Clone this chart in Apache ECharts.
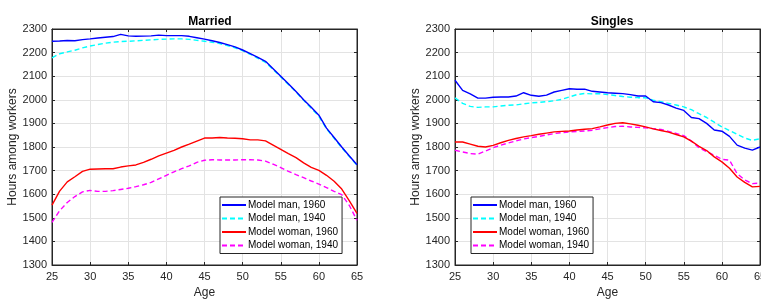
<!DOCTYPE html>
<html>
<head>
<meta charset="utf-8">
<script src="https://cdn.jsdelivr.net/npm/echarts@6/dist/echarts.min.js"></script>
<style>
  html, body { margin: 0; padding: 0; background: #fff; }
  #chart { width: 761px; height: 299px; }
</style>
</head>
<body>
<div id="chart"></div>
<script>
// ages 25..65
const ages = [25,26,27,28,29,30,31,32,33,34,35,36,37,38,39,40,41,42,43,44,45,
              46,47,48,49,50,51,52,53,54,55,56,57,58,59,60,61,62,63,64,65];

const seriesNames = ['Model man, 1960', 'Model man, 1940', 'Model woman, 1960', 'Model woman, 1940'];

// Married
const marriedMan1960 = [2248,2249,2251,2250,2255,2258,2262,2265,2268,2277,2271,2269,2270,2271,2274,2272,2272,2272,2269,2263,2257,
                        2250,2243,2234,2224,2211,2196,2180,2163,2132,2100,2068,2035,2000,1968,1935,1880,1840,1800,1762,1725];
const marriedMan1940 = [2178,2195,2203,2210,2220,2228,2234,2240,2244,2247,2248,2250,2252,2254,2256,2257,2258,2258,2256,2252,2248,
                        2244,2238,2230,2220,2208,2193,2176,2158,2128,2097,2065,2033,1998,1964,1930,1877,1837,1797,1760,1722];
const marriedWoman1960 = [1554,1613,1652,1674,1697,1706,1707,1708,1708,1715,1720,1724,1735,1748,1762,1774,1786,1800,1812,1825,1838,
                          1838,1840,1838,1837,1835,1830,1830,1826,1808,1790,1772,1755,1733,1714,1701,1680,1655,1622,1572,1519];
const marriedWoman1940 = [1481,1530,1565,1590,1610,1616,1612,1612,1615,1620,1625,1632,1640,1650,1665,1680,1695,1708,1720,1735,1744,
                          1746,1745,1745,1745,1746,1746,1745,1740,1727,1713,1697,1683,1670,1656,1643,1628,1612,1598,1552,1489];

// Singles
const singlesMan1960 = [2083,2040,2025,2007,2007,2011,2012,2012,2016,2030,2019,2015,2020,2033,2040,2047,2045,2045,2036,2033,2030,
                        2028,2026,2022,2016,2016,1992,1988,1978,1965,1955,1925,1920,1900,1872,1867,1845,1808,1795,1787,1800];
const singlesMan1940 = [2008,1985,1972,1968,1970,1970,1974,1977,1978,1983,1987,1989,1992,1996,2002,2012,2022,2027,2025,2026,2022,
                        2018,2014,2011,2009,2009,1998,1992,1985,1978,1970,1958,1941,1925,1905,1885,1870,1854,1838,1828,1835];
const singlesWoman1960 = [1821,1821,1812,1803,1800,1807,1818,1828,1836,1843,1848,1854,1859,1864,1866,1868,1872,1875,1878,1885,1893,
                          1900,1903,1898,1892,1885,1877,1870,1863,1853,1843,1825,1803,1785,1758,1737,1710,1673,1650,1631,1633];
const singlesWoman1940 = [1786,1779,1772,1770,1783,1797,1808,1817,1826,1834,1840,1845,1851,1857,1861,1864,1866,1868,1871,1877,1882,
                          1887,1888,1885,1883,1881,1878,1874,1866,1858,1848,1825,1797,1780,1765,1748,1744,1687,1660,1645,1647];

const axisColor = '#262626';
const gridColor = '#e3e3e3';
const lineColors = ['#0000ff', '#00ffff', '#ff0000', '#ff00ff'];
const lineTypes = ['solid', [5, 3], 'solid', [5, 3]];

const toPairs = vals => ages.map((a, i) => [a, vals[i]]);

function makeX(gridIndex, isTop) {
  return {
    type: 'value', gridIndex: gridIndex, min: 25, max: 65, interval: 5,
    position: isTop ? 'top' : 'bottom',
    name: isTop ? '' : 'Age', nameLocation: 'middle', nameGap: 22,
    nameTextStyle: { color: axisColor, fontSize: 12, fontFamily: 'Liberation Sans' },
    axisLine: { show: true, onZero: false, lineStyle: { color: axisColor, width: 1 } },
    axisTick: { show: true, inside: true, length: 3, lineStyle: { color: axisColor } },
    axisLabel: { show: !isTop, color: axisColor, fontSize: 11, fontFamily: 'Liberation Sans', margin: 6,
                 formatter: v => String(v) },
    splitLine: { show: !isTop, lineStyle: { color: gridColor, width: 1 } }
  };
}

function makeY(gridIndex, isRight) {
  return {
    type: 'value', gridIndex: gridIndex, min: 1300, max: 2300, interval: 100,
    position: isRight ? 'right' : 'left',
    name: isRight ? '' : 'Hours among workers', nameLocation: 'middle', nameGap: 29,
    nameTextStyle: { color: axisColor, fontSize: 12, fontFamily: 'Liberation Sans' },
    axisLine: { show: true, onZero: false, lineStyle: { color: axisColor, width: 1 } },
    axisTick: { show: true, inside: true, length: 3, lineStyle: { color: axisColor } },
    axisLabel: { show: !isRight, color: axisColor, fontSize: 11, fontFamily: 'Liberation Sans', margin: 5,
                 formatter: v => String(v) },
    splitLine: { show: !isRight, lineStyle: { color: gridColor, width: 1 } }
  };
}

const panels = [
  [marriedMan1960, marriedMan1940, marriedWoman1960, marriedWoman1940],
  [singlesMan1960, singlesMan1940, singlesWoman1960, singlesWoman1940]
];

const series = [];
panels.forEach((panel, p) => {
  panel.forEach((vals, k) => {
    series.push({
      name: seriesNames[k], type: 'line',
      xAxisIndex: p * 2, yAxisIndex: p * 2,
      data: toPairs(vals), showSymbol: false, symbol: 'none', smooth: false,
      lineStyle: { color: lineColors[k], width: 1.4, type: lineTypes[k] },
      itemStyle: { color: lineColors[k] },
      z: 10 - k
    });
  });
});

function makeLegend(left) {
  return {
    left: left, top: 197, orient: 'vertical',
    data: seriesNames,
    itemWidth: 24, itemHeight: 10, itemGap: 3.5,
    padding: [3, 4, 3, 1],
    itemStyle: { opacity: 0 },
    backgroundColor: '#fff', borderColor: axisColor, borderWidth: 1, borderRadius: 0,
    textStyle: { color: '#000', fontSize: 10, fontFamily: 'Liberation Sans', padding: [0, 0, 0, -3] },
    selectedMode: false
  };
}

const chart = echarts.init(document.getElementById('chart'), null, { renderer: 'canvas' });
chart.setOption({
  animation: false,
  backgroundColor: '#fff',
  title: [
    { text: 'Married', left: 205, top: 11, textAlign: 'center',
      textStyle: { fontSize: 12, fontWeight: 'bold', color: '#000', fontFamily: 'Liberation Sans' } },
    { text: 'Singles', left: 607, top: 11, textAlign: 'center',
      textStyle: { fontSize: 12, fontWeight: 'bold', color: '#000', fontFamily: 'Liberation Sans' } }
  ],
  grid: [
    { left: 52, top: 29, width: 305, height: 236, show: true, borderColor: axisColor, borderWidth: 1,
      backgroundColor: '#fff', outerBoundsMode: 'none', containLabel: false },
    { left: 455, top: 29, width: 305, height: 236, show: true, borderColor: axisColor, borderWidth: 1,
      backgroundColor: '#fff', outerBoundsMode: 'none', containLabel: false }
  ],
  xAxis: [makeX(0, false), makeX(0, true), makeX(1, false), makeX(1, true)],
  yAxis: [makeY(0, false), makeY(0, true), makeY(1, false), makeY(1, true)],
  legend: [makeLegend(220), makeLegend(471)],
  series: series
});
</script>
</body>
</html>
